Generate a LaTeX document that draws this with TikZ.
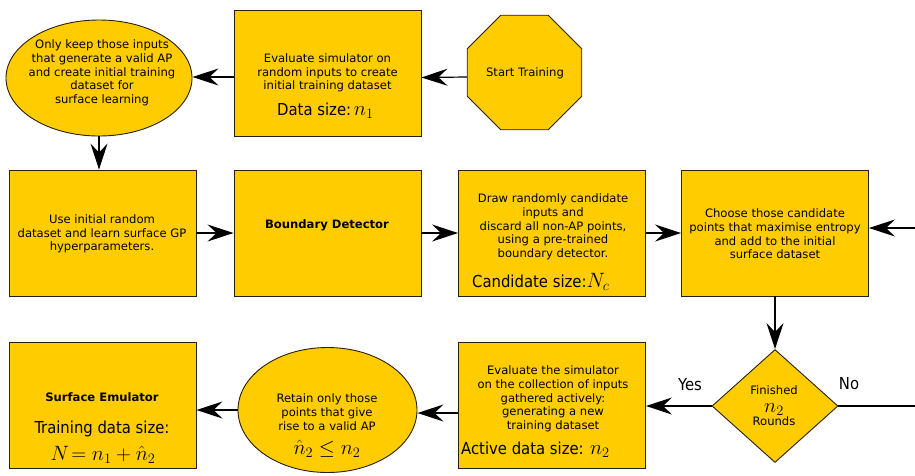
\documentclass[tikz,border=0pt]{standalone}
\usepackage{fontspec}
\setmainfont{DejaVu Sans}
\newfontfamily\condfont{DejaVu Sans Condensed}
\usetikzlibrary{shapes.geometric,arrows.meta}
\definecolor{boxfill}{RGB}{255,204,0}
\definecolor{boxline}{RGB}{40,32,10}
% larger maths inside the condensed labels
\newcommand{\bigmath}[1]{{\fontsize{19.5}{21}\selectfont$#1$}}

\begin{document}
\begin{tikzpicture}[x=1pt,y=-1pt,
  shapebox/.style={draw=boxline, line width=0.9pt, fill=boxfill, inner sep=0pt},
  blk/.style={shapebox, rectangle, minimum width=187pt, minimum height=126pt},
  txt/.style={align=center, font=\fontsize{11.6}{13.7}\selectfont, inner sep=0pt},
  boldtxt/.style={txt, font=\fontsize{11.6}{13.7}\selectfont\bfseries},
  big/.style={font=\condfont\fontsize{16.5}{19}\selectfont, inner sep=0pt},
  arr/.style={line width=1.2pt, -{Stealth[length=26pt,width=17pt,inset=9pt]}},
  plain/.style={line width=1.2pt},
]
\useasboundingbox (0,0) rectangle (915,475);

% ---- top row ----
\node[shapebox, ellipse, minimum width=186pt, minimum height=116pt] (keep) at (99,78) {};
\node[blk] (evalA) at (327.5,73) {};
\node[shapebox, regular polygon, regular polygon sides=8, minimum size=124pt] (start) at (524.5,72.5) {};

\node[txt] (keepT) at (102,73) {Only keep those inputs\\that generate a valid AP\\and create initial training\\dataset for\\surface learning};
\node[txt] (evalAT) at (327.5,73) {Evaluate simulator on\\random inputs to create\\initial training dataset};
\node[big, anchor=base west] (dsize) at (277,115) {Data size:\,\bigmath{n_1}};
\node[txt] (startT) at (525,73) {Start Training};

% ---- middle row ----
\node[blk] (use1) at (102.5,233) {};
\node[blk] (bd) at (327.5,233) {};
\node[blk] (cand) at (552,233) {};
\node[blk] (choose) at (775,233) {};

\node[txt] (use1T) at (102,234) {Use initial random\\dataset and learn surface GP\\hyperparameters.};
\node[boldtxt] (bdT) at (327,225) {Boundary Detector};
\node[txt] (candT) at (553,227) {Draw randomly candidate\\inputs and\\discard all non-AP points,\\using a pre-trained\\boundary detector.};
\node[big, anchor=base west] (csize) at (472,287) {Candidate size:\bigmath{N_c}};
\node[txt] (chooseT) at (775,234) {Choose those candidate\\points that maximise entropy\\and add to the initial\\surface dataset};

% ---- bottom row ----
\node[blk] (emu) at (102.5,405) {};
\node[shapebox, ellipse, minimum width=179pt, minimum height=125pt] (retain) at (327.5,410) {};
\node[blk] (act) at (552,405.5) {};
\node[shapebox, diamond, minimum width=126pt, minimum height=113pt] (fin) at (775,406) {};

\node[boldtxt] (emuT) at (102,397) {Surface Emulator};
\node[big, anchor=base, text depth=0pt] (tsize) at (102,433) {Training data size:};
\node[big, anchor=base] (tform) at (103,460) {\bigmath{N\!=n_1+\hat{n}_2}};
\node[txt] (retainT) at (327,412) {Retain only those\\points that give\\rise to a valid AP};
\node[big, anchor=base] (retainM) at (327,454) {\bigmath{\hat{n}_2\le n_2}};
\node[txt] (actT) at (553,399) {Evaluate the simulator\\on the collection of inputs\\gathered actively:\\generating a new\\training dataset};
\node[big, anchor=base west] (asize) at (461,454) {Active data size: \bigmath{n_2}};
\node[txt] (finT1) at (774,390) {Finished};
\node[big, anchor=base] (finT2) at (774,412) {\bigmath{n_2}};
\node[txt] (finT3) at (774,421) {Rounds};

\node[big] (yes) at (690,385) {Yes};
\node[big] (no) at (849,384) {No};

% ---- connectors ----
\coordinate (inR) at (915,228);
\coordinate (outR) at (915,406);

\draw[arr] ([yshift=-4.5pt]start.west) -- ([yshift=-4.5pt]evalA.east);
\draw[arr] ([yshift=-4pt]evalA.west) -- ([yshift=-4pt]evalA.west -| keep.east);
\draw[arr] (keep.south) -- (keep.south |- use1.north);
\draw[arr] (use1.east) -- (bd.west);
\draw[arr] (bd.east) -- (cand.west);
\draw[arr] (cand.east) -- (choose.west);
\draw[arr] (inR) -- (inR -| choose.east);
\draw[arr] (choose.south) -- (fin.north);
\draw[plain] (fin.east) -- (outR);
\draw[arr] (fin.west) -- (fin.west -| act.east);
\draw[arr] ([yshift=-7.5pt]act.west) -- ([yshift=-7.5pt]act.west -| retain.east);
\draw[arr] (retain.west) -- (retain.west -| emu.east);
\end{tikzpicture}
\end{document}
